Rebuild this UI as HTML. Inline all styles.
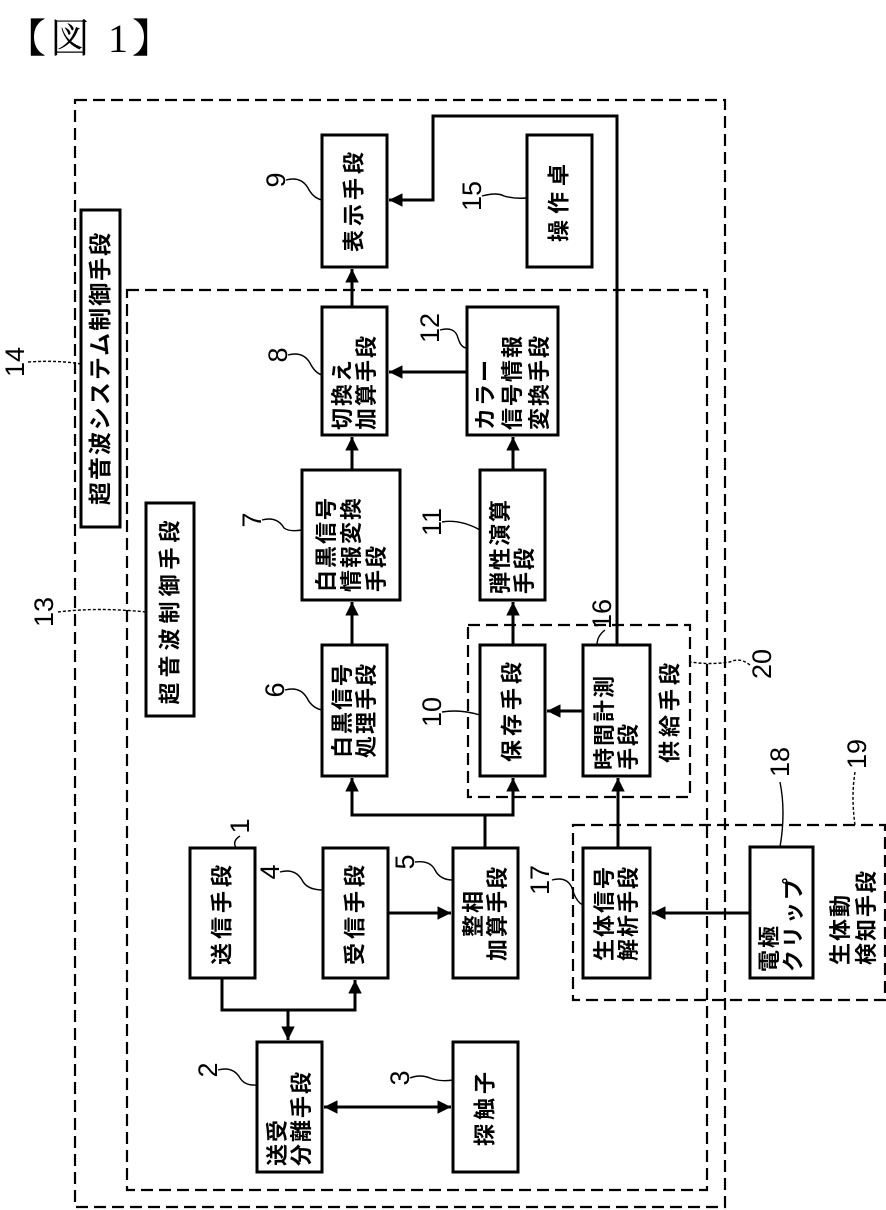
<!DOCTYPE html>
<html><head><meta charset="utf-8"><style>
html,body{margin:0;padding:0;background:#fff;}
svg{display:block;}
text{font-family:"Liberation Sans","Noto Sans CJK JP",sans-serif;font-weight:bold;fill:#000;}
.n{font-size:27px;font-weight:normal;}
</style></head><body>
<svg width="886" height="1210" viewBox="0 0 886 1210" xmlns="http://www.w3.org/2000/svg">
<defs>
<marker id="a" viewBox="0 0 10 10" refX="10" refY="5" markerWidth="4.5" markerHeight="4.5" orient="auto-start-reverse"><path d="M0,0 L10,5 L0,10 z" fill="#000"/></marker>
</defs>
<text x="6" y="52" style="font-family:'Liberation Serif','Noto Serif CJK SC',serif;font-size:40px;font-weight:normal;letter-spacing:4px">【図 1】</text>

<g fill="none" stroke="#000" stroke-width="2.2" stroke-dasharray="12,6">
<rect x="75" y="100" width="650" height="1107"/>
<rect x="127" y="290" width="580" height="900"/>
<rect x="468" y="625" width="222" height="172"/>
<rect x="573" y="825" width="312" height="175"/>
</g>

<g fill="#fff" stroke="#000" stroke-width="3">
<rect x="81" y="210" width="39" height="317"/>
<rect x="146" y="503" width="48" height="213"/>
<rect x="190" y="848" width="65" height="130"/>
<rect x="257" y="1042" width="65" height="130"/>
<rect x="453" y="1042" width="65" height="130"/>
<rect x="323" y="848" width="65" height="130"/>
<rect x="453" y="848" width="65" height="130"/>
<rect x="322" y="645" width="65" height="131"/>
<rect x="302" y="470" width="98" height="130"/>
<rect x="322" y="307" width="65" height="128"/>
<rect x="322" y="135" width="65" height="132"/>
<rect x="480" y="645" width="65" height="131"/>
<rect x="480" y="470" width="65" height="130"/>
<rect x="467" y="307" width="91" height="128"/>
<rect x="527" y="135" width="65" height="132"/>
<rect x="583" y="645" width="67" height="131"/>
<rect x="583" y="848" width="67" height="130"/>
<rect x="750" y="847" width="63" height="131"/>
</g>

<g fill="none" stroke="#000" stroke-width="3">
<polyline points="222,978 222,1010 355,1010 355,980" marker-end="url(#a)"/>
<line x1="288" y1="1010" x2="288" y2="1040" marker-end="url(#a)"/>
<line x1="388" y1="913" x2="451" y2="913" marker-end="url(#a)"/>
<line x1="324" y1="1107" x2="451" y2="1107" marker-start="url(#a)" marker-end="url(#a)"/>
<line x1="485" y1="848" x2="485" y2="815"/>
<polyline points="352,778 352,815 513,815 513,778"/>
<line x1="352" y1="815" x2="352" y2="778" marker-end="url(#a)"/>
<line x1="513" y1="815" x2="513" y2="778" marker-end="url(#a)"/>
<line x1="352" y1="645" x2="352" y2="602" marker-end="url(#a)"/>
<line x1="352" y1="470" x2="352" y2="437" marker-end="url(#a)"/>
<line x1="352" y1="307" x2="352" y2="269" marker-end="url(#a)"/>
<line x1="513" y1="645" x2="513" y2="602" marker-end="url(#a)"/>
<line x1="513" y1="470" x2="513" y2="437" marker-end="url(#a)"/>
<line x1="467" y1="372" x2="389" y2="372" marker-end="url(#a)"/>
<line x1="583" y1="711" x2="547" y2="711" marker-end="url(#a)"/>
<line x1="618" y1="848" x2="618" y2="778" marker-end="url(#a)"/>
<polyline points="617,645 617,116 433,116 433,200 389,200" marker-end="url(#a)"/>
<line x1="750" y1="913" x2="652" y2="913" marker-end="url(#a)"/>
</g>

<g fill="none" stroke="#000" stroke-width="1.4">
<path d="M240,836 q-8,5 -4,12"/>
<path d="M218,1070 q15,-4 22,8 q5,8 17,7"/>
<path d="M410,1078 q10,-4 20,0 q10,4 23,2"/>
<path d="M280,872 q15,-4 22,8 q5,10 21,10"/>
<path d="M415,862 q15,-2 20,8 q5,10 18,10"/>
<path d="M285,690 q15,-4 22,8 q5,10 15,12"/>
<path d="M262,520 q15,-4 22,8 q5,4 18,2"/>
<path d="M288,355 q15,-4 22,8 q5,10 12,12"/>
<path d="M286,180 q15,-4 22,8 q5,10 14,12"/>
<path d="M442,712 q18,-3 38,3"/>
<path d="M442,522 q18,-3 38,8"/>
<path d="M440,330 q15,-4 18,8 q3,10 9,10"/>
<path d="M482,196 q15,-4 22,0 q10,3 23,2"/>
<path d="M605,630 q-8,6 -8,15"/>
<path d="M552,880 q15,-4 20,8 q4,14 11,17"/>
<path d="M780,782 q6,30 0,65"/>
</g>
<g fill="none" stroke="#000" stroke-width="1.4" stroke-dasharray="3,2">
<path d="M28,362 q30,-2 53,2"/>
<path d="M58,612 q40,-5 88,0"/>
<path d="M855,772 q-4,25 0,53"/>
<path d="M750,665 q-10,-8 -20,-3 q-20,3 -40,0"/>
</g>

<g>
<text class="n" transform="translate(240,826) rotate(-90)" text-anchor="middle" dominant-baseline="central">1</text>
<text class="n" transform="translate(208,1070) rotate(-90)" text-anchor="middle" dominant-baseline="central">2</text>
<text class="n" transform="translate(400,1078) rotate(-90)" text-anchor="middle" dominant-baseline="central">3</text>
<text class="n" transform="translate(270,872) rotate(-90)" text-anchor="middle" dominant-baseline="central">4</text>
<text class="n" transform="translate(405,862) rotate(-90)" text-anchor="middle" dominant-baseline="central">5</text>
<text class="n" transform="translate(275,690) rotate(-90)" text-anchor="middle" dominant-baseline="central">6</text>
<text class="n" transform="translate(252,520) rotate(-90)" text-anchor="middle" dominant-baseline="central">7</text>
<text class="n" transform="translate(278,355) rotate(-90)" text-anchor="middle" dominant-baseline="central">8</text>
<text class="n" transform="translate(276,180) rotate(-90)" text-anchor="middle" dominant-baseline="central">9</text>
<text class="n" transform="translate(432,712) rotate(-90)" text-anchor="middle" dominant-baseline="central">10</text>
<text class="n" transform="translate(432,522) rotate(-90)" text-anchor="middle" dominant-baseline="central">11</text>
<text class="n" transform="translate(430,328) rotate(-90)" text-anchor="middle" dominant-baseline="central">12</text>
<text class="n" transform="translate(44,612) rotate(-90)" text-anchor="middle" dominant-baseline="central">13</text>
<text class="n" transform="translate(15,362) rotate(-90)" text-anchor="middle" dominant-baseline="central">14</text>
<text class="n" transform="translate(472,196) rotate(-90)" text-anchor="middle" dominant-baseline="central">15</text>
<text class="n" transform="translate(602,614) rotate(-90)" text-anchor="middle" dominant-baseline="central">16</text>
<text class="n" transform="translate(540,880) rotate(-90)" text-anchor="middle" dominant-baseline="central">17</text>
<text class="n" transform="translate(780,762) rotate(-90)" text-anchor="middle" dominant-baseline="central">18</text>
<text class="n" transform="translate(857,754) rotate(-90)" text-anchor="middle" dominant-baseline="central">19</text>
<text class="n" transform="translate(762,664) rotate(-90)" text-anchor="middle" dominant-baseline="central">20</text>
</g>

<g style="font-size:22px">
<text transform="translate(100,368) rotate(-90)" text-anchor="middle" dominant-baseline="central" style="font-size:23px;letter-spacing:2px">超音波システム制御手段</text>
<text transform="translate(170,610) rotate(-90)" text-anchor="middle" dominant-baseline="central" style="letter-spacing:5px">超音波制御手段</text>
<text transform="translate(222,913) rotate(-90)" text-anchor="middle" dominant-baseline="central" style="letter-spacing:4px">送信手段</text>
<text transform="translate(355,913) rotate(-90)" text-anchor="middle" dominant-baseline="central" style="letter-spacing:4px">受信手段</text>
<text transform="translate(485,1107) rotate(-90)" text-anchor="middle" dominant-baseline="central" style="letter-spacing:4px">探触子</text>
<text transform="translate(354,710) rotate(-90)" text-anchor="middle" dominant-baseline="central" style="letter-spacing:2px"><tspan x="0" y="-12">白黒信号</tspan><tspan x="0" y="12">処理手段</tspan></text>
<text transform="translate(354,200) rotate(-90)" text-anchor="middle" dominant-baseline="central" style="letter-spacing:4px">表示手段</text>
<text transform="translate(512,710) rotate(-90)" text-anchor="middle" dominant-baseline="central" style="letter-spacing:4px">保存手段</text>
<text transform="translate(559,200) rotate(-90)" text-anchor="middle" dominant-baseline="central" style="letter-spacing:6px">操作卓</text>
<text transform="translate(485,913) rotate(-90)" text-anchor="middle" dominant-baseline="central" style="letter-spacing:2px"><tspan x="0" y="-12">整相</tspan><tspan x="0" y="12">加算手段</tspan></text>
<text transform="translate(616,913) rotate(-90)" text-anchor="middle" dominant-baseline="central" style="letter-spacing:2px"><tspan x="0" y="-12">生体信号</tspan><tspan x="0" y="12">解析手段</tspan></text>
<text transform="translate(670,711) rotate(-90)" text-anchor="middle" dominant-baseline="central" style="letter-spacing:4px">供給手段</text>
<text transform="translate(289,1166) rotate(-90)" dominant-baseline="central" style="letter-spacing:2px"><tspan x="0" y="-12">送受</tspan><tspan x="0" y="12">分離手段</tspan></text>
<text transform="translate(351,592) rotate(-90)" dominant-baseline="central" style="letter-spacing:2px"><tspan x="0" y="-25">白黒信号</tspan><tspan x="0" y="0">情報変換</tspan><tspan x="0" y="25">手段</tspan></text>
<text transform="translate(354,430) rotate(-90)" dominant-baseline="central" style="letter-spacing:2px"><tspan x="0" y="-12">切換え</tspan><tspan x="0" y="12">加算手段</tspan></text>
<text transform="translate(512,594) rotate(-90)" dominant-baseline="central" style="letter-spacing:2px"><tspan x="0" y="-12">弾性演算</tspan><tspan x="0" y="12">手段</tspan></text>
<text transform="translate(512,430) rotate(-90)" dominant-baseline="central" style="letter-spacing:2px"><tspan x="0" y="-27">カラー</tspan><tspan x="0" y="0">信号情報</tspan><tspan x="0" y="27">変換手段</tspan></text>
<text transform="translate(616,770) rotate(-90)" dominant-baseline="central" style="letter-spacing:2px"><tspan x="0" y="-12">時間計測</tspan><tspan x="0" y="12">手段</tspan></text>
<text transform="translate(781,972) rotate(-90)" dominant-baseline="central" style="letter-spacing:2px"><tspan x="0" y="-12">電極</tspan><tspan x="0" y="12">クリップ</tspan></text>
<text transform="translate(853,965) rotate(-90)" dominant-baseline="central" style="letter-spacing:2px"><tspan x="0" y="-13">生体動</tspan><tspan x="0" y="13">検知手段</tspan></text>
</g>
</svg>
</body></html>
